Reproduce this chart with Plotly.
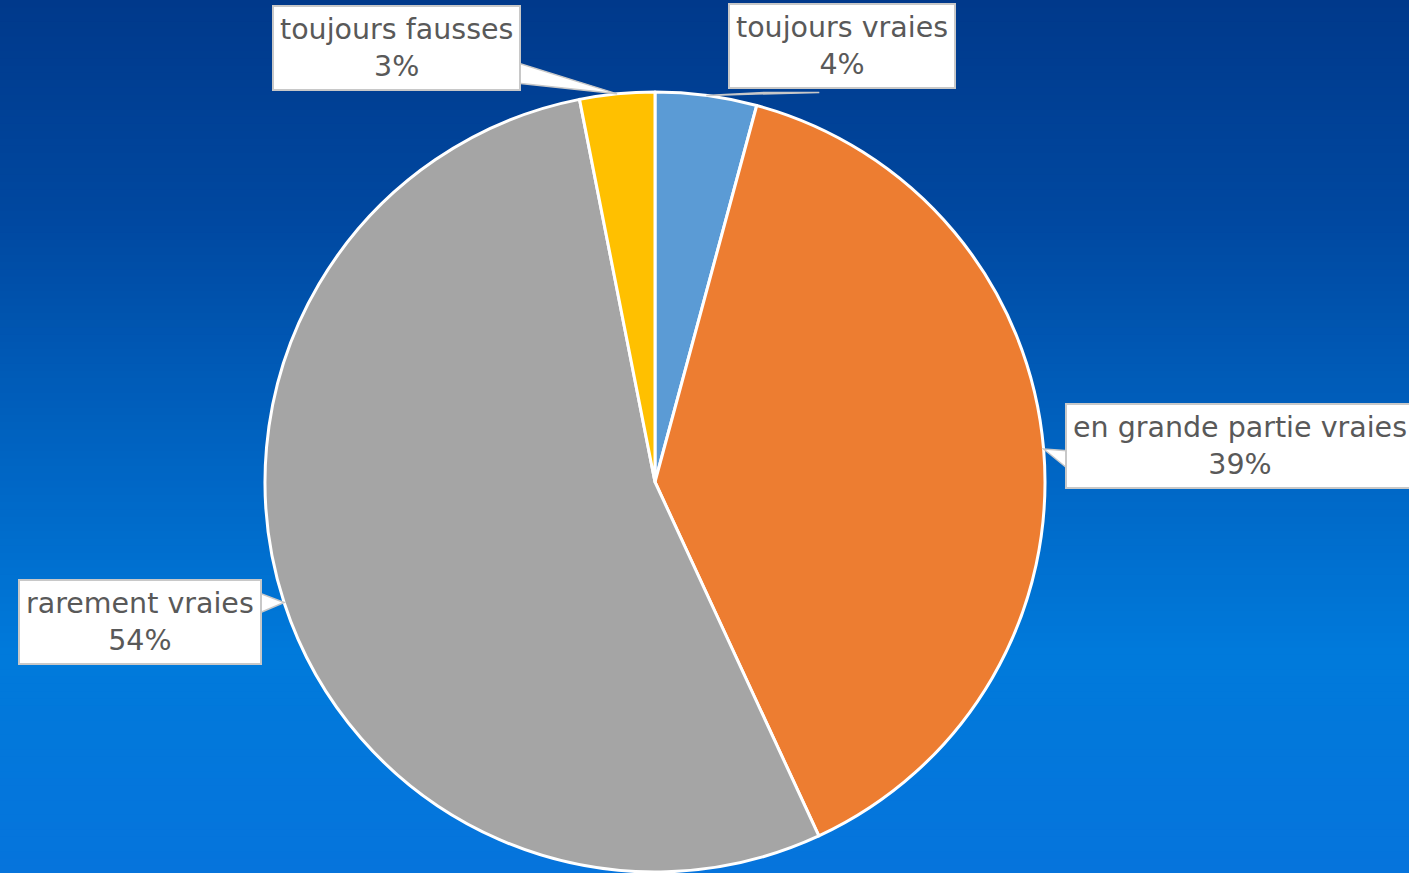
import math
import plotly.graph_objects as go

# ---- data ----
labels = ["toujours vraies", "en grande partie vraies", "rarement vraies", "toujours fausses"]
values = [4.2, 38.9, 53.8, 3.1]
colors = ["#5b9bd5", "#ed7d31", "#a5a5a5", "#ffc000"]

# ---- layout constants (pixels) ----
W, H = 1409, 873
CX, CY, R = 655, 482, 390
# label box centre offsets from the callout tip (pixels)
offsets = [(136, -49), (196, -3), (-144, 19), (-221, -46)]
# callout wedge base points relative to tip (pixels)
wedges = [((58, -3), (113, -3)),
          ((27, 2), (27, 22)),
          ((-26, -10), (-26, 11)),
          ((-103, -32), (-103, -11))]

fig = go.Figure()
fig.add_trace(go.Pie(
    labels=labels, values=values, sort=False, direction="clockwise", rotation=0,
    marker=dict(colors=colors, line=dict(color="white", width=3)),
    textinfo="none", hoverinfo="label+percent", showlegend=False,
    domain=dict(x=[(CX - R) / W, (CX + R) / W], y=[1 - (CY + R) / H, 1 - (CY - R) / H]),
))

# gradient background
stops = [(0.0, (0x00, 0x39, 0x8b)), (0.25, (0x00, 0x48, 0xa0)), (0.5, (0x00, 0x62, 0xc0)),
         (0.75, (0x00, 0x7a, 0xdb)), (1.0, (0x06, 0x74, 0xdc))]
def col_at(t):
    for (t0, c0), (t1, c1) in zip(stops[:-1], stops[1:]):
        if t0 <= t <= t1:
            f = (t - t0) / (t1 - t0)
            return "rgb(%d,%d,%d)" % tuple(round(a + (b - a) * f) for a, b in zip(c0, c1))
    return "rgb(%d,%d,%d)" % stops[-1][1]
N = 120
shapes = []
for i in range(N):
    t = (i + 0.5) / N
    shapes.append(dict(type="rect", xref="paper", yref="paper", x0=0, x1=1,
                       y0=1 - (i + 1) / N - 0.001, y1=1 - i / N,
                       fillcolor=col_at(t), line=dict(width=0), layer="below"))

def to_paper(px, py):
    return px / W, 1 - py / H

# callout labels
total = sum(values)
cum = 0
annotations = []
for lab, v, (ox, oy), (b1, b2) in zip(labels, values, offsets, wedges):
    mid = (cum + v / 2) / total * 2 * math.pi
    cum += v
    px = CX + R * math.sin(mid)
    py = CY - R * math.cos(mid)
    pct = round(v / total * 100)
    tx, ty = to_paper(px, py)
    x1, y1 = to_paper(px + b1[0], py + b1[1])
    x2, y2 = to_paper(px + b2[0], py + b2[1])
    shapes.append(dict(type="path", xref="paper", yref="paper",
                       path=f"M {tx} {ty} L {x1} {y1} L {x2} {y2} Z",
                       fillcolor="white", line=dict(color="#c8c8c8", width=1.5),
                       layer="above"))
    annotations.append(dict(
        x=tx, y=ty, xref="paper", yref="paper",
        text=f"{lab}<br>{pct}%", showarrow=True, arrowhead=0, arrowwidth=1,
        arrowcolor="rgba(0,0,0,0)", ax=ox, ay=oy, axref="pixel", ayref="pixel",
        font=dict(family="DejaVu Sans", size=28.5, color="#595959"),
        bgcolor="white", bordercolor="#c8c8c8", borderwidth=2, borderpad=6,
        align="center", standoff=0,
    ))

fig.update_layout(
    width=W, height=H, margin=dict(l=0, r=0, t=0, b=0),
    paper_bgcolor="#0062c0", plot_bgcolor="rgba(0,0,0,0)",
    shapes=shapes, annotations=annotations,
)
fig.write_html("out.html", config={"displayModeBar": False},
               post_script="document.body.style.margin='0';")
